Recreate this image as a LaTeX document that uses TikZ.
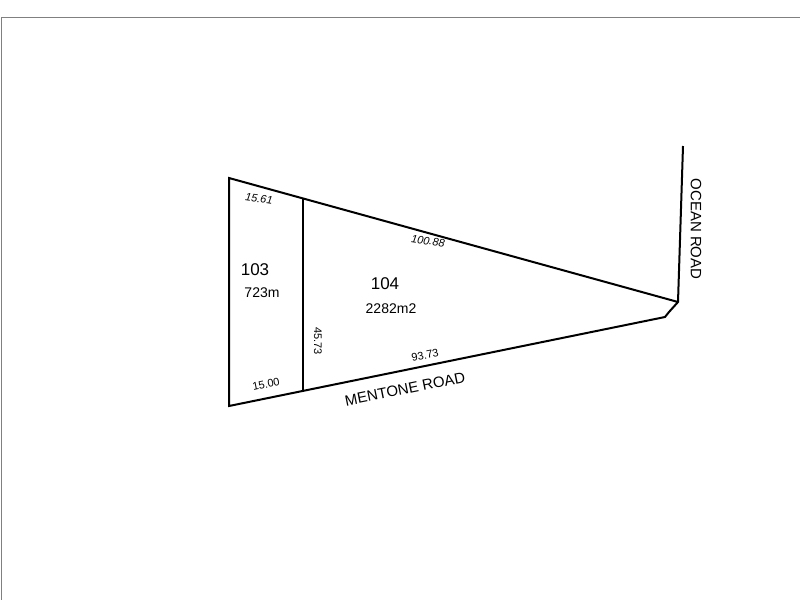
\documentclass[tikz,border=0pt]{standalone}
\usepackage{fontspec}
\setmainfont{Liberation Sans}
\begin{document}
\begin{tikzpicture}[x=1pt,y=-1pt,
  bnd/.style={line width=2pt,line join=miter},
  dim/.style={font=\fontsize{11}{12}\selectfont,inner sep=1pt},
  dimi/.style={font=\fontsize{11}{12}\selectfont\itshape,inner sep=1pt},
  lot/.style={font=\fontsize{17}{18}\selectfont,inner sep=1pt},
  area/.style={font=\fontsize{14}{16}\selectfont,inner sep=1pt},
  road/.style={font=\fontsize{15}{16}\selectfont,inner sep=1pt}]
\useasboundingbox (0,0) rectangle (800,600);
\draw[gray,line width=1pt] (1,600) -- (1,17) -- (800,17);
\coordinate (a) at (229,178);
\coordinate (b) at (678,302);
\coordinate (c) at (665,317);
\coordinate (d) at (229,406);
\coordinate (o) at (683,146);
\coordinate (t) at (303,198);
\coordinate (u) at (303,390);
\draw[bnd] (o) -- (b) -- (669,312) -- (c) -- (d) -- (a) -- (b);
\draw[bnd] (t) -- (u);
\node[dimi,rotate=-8] (l1) at (259,199) {15.61};
\node[dimi,rotate=-8] (l2) at (428,241) {100.88};
\node[dim,rotate=11.5] (l3) at (425,355) {93.73};
\node[dim,rotate=11.5] (l4) at (266,384) {15.00};
\node[dim,rotate=-90] (l5) at (318,341) {45.73};
\node[lot] (n103) at (255,270) {103};
\node[area] (a103) at (262,293) {723m};
\node[lot] (n104) at (385,284) {104};
\node[area] (a104) at (391,309) {2282m2};
\node[road,rotate=11.5] (mr) at (405,389) {MENTONE ROAD};
\node[road,rotate=-90] (or) at (696,229) {OCEAN ROAD};
\end{tikzpicture}
\end{document}
